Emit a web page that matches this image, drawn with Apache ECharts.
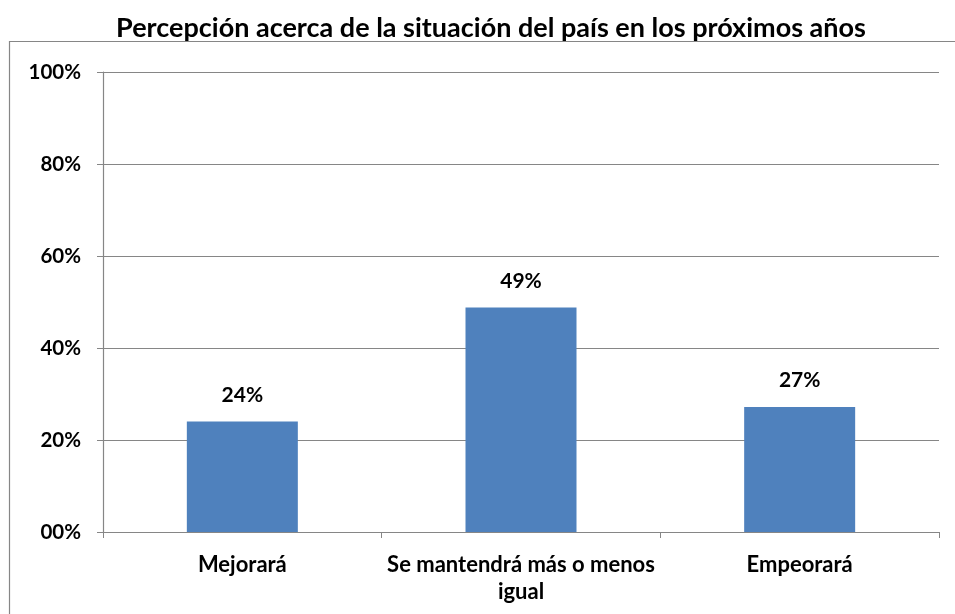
<!DOCTYPE html>
<html>
<head>
<meta charset="utf-8">
<script src="https://cdn.jsdelivr.net/npm/echarts@6/dist/echarts.min.js"></script>
<style>html,body{margin:0;padding:0;background:#fff}#c{width:955px;height:614px}</style>
</head>
<body>
<div id="c"></div>
<script>
const titleText = 'Percepción acerca de la situación del país en los próximos años';
const categories = ['Mejorará', 'Se mantendrá más o menos\nigual', 'Empeorará'];
const values = [24.0, 48.8, 27.2];
const yTicks = [0, 20, 40, 60, 80, 100];

const chart = echarts.init(document.getElementById('c'));
const FONT = 'Lato';
chart.setOption({
  animation: false,
  title: {
    text: titleText,
    left: 486, top: 10, textAlign: 'center',
    textStyle: { fontFamily: FONT, fontWeight: 'bold', fontSize: 27, color: '#000' }
  },
  graphic: [{
    type: 'rect', shape: { x: 9.5, y: 41.5, width: 1000, height: 700 },
    style: { fill: 'none', stroke: '#868686', lineWidth: 1.2 }, z: -1
  }],
  grid: { left: 103, right: 16, top: 72, bottom: 82 },
  xAxis: {
    type: 'category', data: categories,
    axisLine: { lineStyle: { color: '#868686', width: 1.2 } },
    axisTick: { show: true, length: 6, lineStyle: { color: '#868686' } },
    axisLabel: { fontFamily: FONT, fontWeight: 'bold', fontSize: 22, color: '#000', margin: 19, lineHeight: 27, interval: 0 }
  },
  yAxis: {
    type: 'value', min: 0, max: 100, interval: 20,
    axisLine: { show: true, lineStyle: { color: '#868686', width: 1.2 } },
    axisTick: { show: true, length: 6, lineStyle: { color: '#868686' } },
    splitLine: { lineStyle: { color: '#868686', width: 1.2 } },
    axisLabel: {
      fontFamily: FONT, fontWeight: 'bold', fontSize: 20.5, color: '#000', margin: 22,
      formatter: v => yTicks.includes(v) ? (v === 0 ? '00%' : v + '%') : ''
    }
  },
  series: [{
    type: 'bar', data: values, barWidth: 111,
    itemStyle: { color: '#4F81BD' },
    label: {
      show: true, position: 'top', distance: 16,
      fontFamily: FONT, fontWeight: 'bold', fontSize: 21, color: '#000',
      formatter: p => Math.round(p.value) + '%'
    }
  }]
});
</script>
</body>
</html>
